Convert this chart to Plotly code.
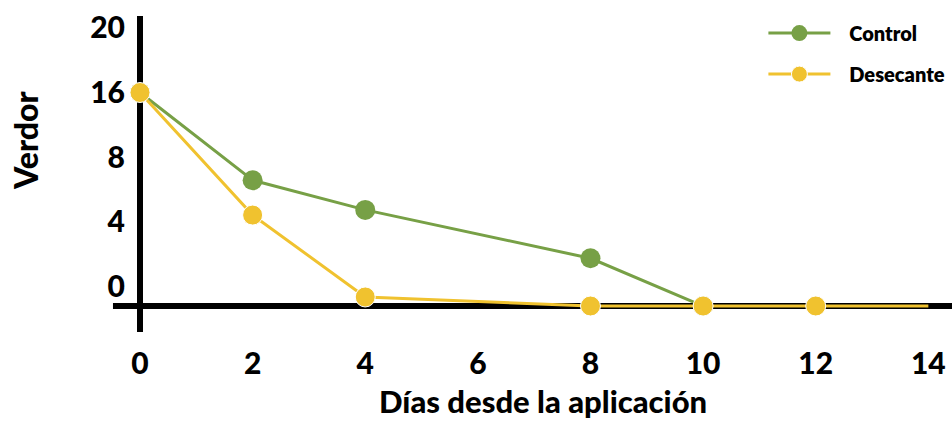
import plotly.graph_objects as go

# Days after application and greenness level (grade scale: 0-4 -> 0,4,8,16,20)
dias_control = [0, 2, 4, 8, 10]
verdor_control = [3.0, 1.64, 1.18, 0.43, -0.31]

dias_desecante = [0, 2, 4, 8, 10, 12, 14]
verdor_desecante = [3.0, 1.10, -0.17, -0.31, -0.31, -0.31, -0.31]

x_ticks = [0, 2, 4, 6, 8, 10, 12, 14]
y_tickvals = [0, 1, 2, 3, 4]
y_ticktext = ["0", "4", "8", "16", "20"]
baseline = -0.31

GREEN = "#77a046"
YELLOW = "#f0c22f"
FONT = "Lato"
GAP = "\u00a0\u00a0\u00a0"

fig = go.Figure()
fig.add_trace(go.Scatter(
    x=dias_control, y=verdor_control, name=GAP + "Control",
    mode="lines+markers", cliponaxis=False,
    line=dict(color=GREEN, width=3),
    marker=dict(color=GREEN, size=20, opacity=1),
    legendgroup="a",
))
fig.add_trace(go.Scatter(
    x=dias_desecante, y=verdor_desecante, name=GAP + "Desecante",
    mode="lines+markers", cliponaxis=False,
    line=dict(color=YELLOW, width=3),
    marker=dict(color=YELLOW, opacity=1,
                size=[20] * (len(dias_desecante) - 1) + [0]),
    legendgroup="b",
))

# Axis lines drawn as heavy black bars
fig.add_shape(type="line", xref="paper", yref="y", x0=-0.0232, x1=1,
              y0=baseline, y1=baseline, line=dict(color="black", width=6), layer="below")
fig.add_shape(type="line", xref="x", yref="paper", x0=0, x1=0,
              y0=0.0235, y1=0.953, line=dict(color="black", width=6), layer="below")

fig.update_layout(
    width=952, height=421,
    margin=dict(l=132, r=0, t=0, b=81),
    paper_bgcolor="white", plot_bgcolor="white",
    font=dict(family=FONT, color="black"),
    showlegend=True,
    legend=dict(
        x=0.77, y=0.96, xanchor="left", yanchor="top",
        itemwidth=62, tracegroupgap=12,
        font=dict(family=FONT, size=20, weight=800, color="black"),
        bgcolor="rgba(0,0,0,0)",
    ),
    xaxis=dict(
        range=[-0.142, 14.42], tickvals=x_ticks, showgrid=False, zeroline=False,
        showline=False, ticks="", ticklabelstandoff=3,
        tickfont=dict(family=FONT, size=30, weight=900, color="black"),
    ),
    yaxis=dict(
        range=[-0.837, 4.434], tickvals=y_tickvals, ticktext=y_ticktext,
        showgrid=False, zeroline=False, showline=False, ticks="",
        ticklabelstandoff=6,
        tickfont=dict(family=FONT, size=30, weight=900, color="black"),
    ),
    annotations=[
        dict(text="Días desde la aplicación", xref="paper", yref="paper",
             x=(543 - 132) / 820, y=(340 - 401) / 340, showarrow=False,
             xanchor="center", yanchor="middle",
             font=dict(family=FONT, size=31, weight=900, color="black")),
        dict(text="Verdor", xref="paper", yref="paper",
             x=(25 - 132) / 820, y=(340 - 141) / 340, showarrow=False,
             textangle=-90, xanchor="center", yanchor="middle",
             font=dict(family=FONT, size=32, weight=900, color="black")),
    ],
)

fig.write_html("out.html")
